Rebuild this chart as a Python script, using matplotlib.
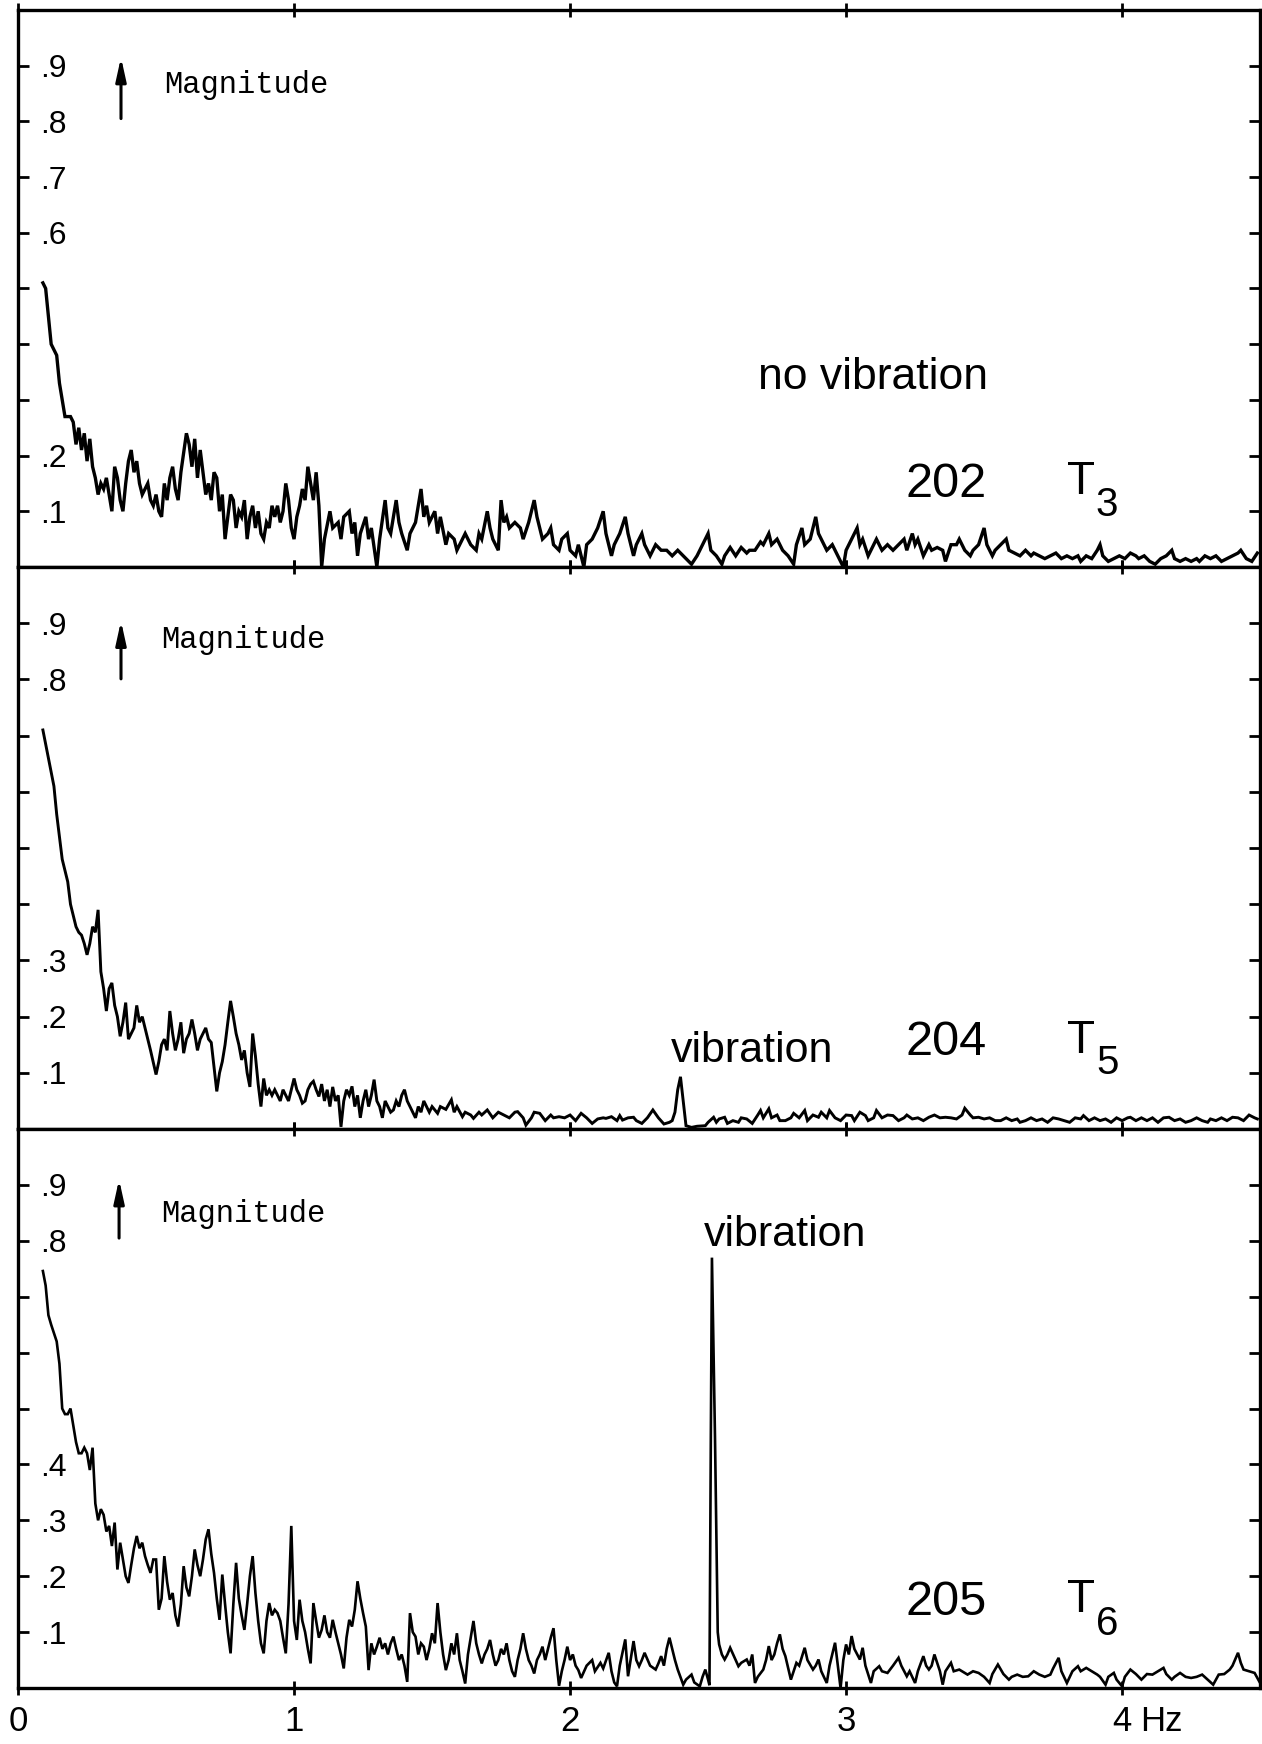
import matplotlib.pyplot as plt
import numpy as np

# --- spectrum 202 / T3 (no vibration) ---
f1 = [0.09, 0.10, 0.11, 0.12, 0.14, 0.15, 0.17, 0.19, 0.20, 0.21, 0.22, 0.23, 0.24, 0.25, 0.26, 0.27, 0.28, 0.29,
      0.30, 0.31, 0.32, 0.33, 0.34, 0.35, 0.36, 0.37, 0.38, 0.39, 0.40, 0.41, 0.42, 0.43, 0.44, 0.45, 0.47, 0.48,
      0.49, 0.50, 0.51, 0.52, 0.53, 0.54, 0.55, 0.56, 0.57, 0.58, 0.59, 0.61, 0.62, 0.63, 0.64, 0.65, 0.66, 0.67,
      0.68, 0.69, 0.70, 0.71, 0.72, 0.73, 0.74, 0.75, 0.76, 0.77, 0.78, 0.79, 0.80, 0.81, 0.82, 0.83, 0.84, 0.85,
      0.86, 0.87, 0.88, 0.89, 0.90, 0.91, 0.92, 0.93, 0.94, 0.95, 0.96, 0.97, 0.98, 0.99, 1.00, 1.01, 1.02, 1.03,
      1.04, 1.05, 1.06, 1.07, 1.08, 1.09, 1.10, 1.11, 1.13, 1.14, 1.16, 1.17, 1.18, 1.20, 1.21, 1.22, 1.23, 1.24,
      1.26, 1.27, 1.28, 1.30, 1.31, 1.33, 1.34, 1.35, 1.37, 1.38, 1.39, 1.41, 1.42, 1.44, 1.46, 1.47, 1.48, 1.49,
      1.51, 1.52, 1.53, 1.55, 1.56, 1.58, 1.59, 1.61, 1.62, 1.64, 1.66, 1.67, 1.68, 1.70, 1.71, 1.72, 1.74, 1.75,
      1.76, 1.77, 1.78, 1.80, 1.82, 1.83, 1.85, 1.87, 1.88, 1.89, 1.90, 1.92, 1.93, 1.94, 1.96, 1.97, 1.99, 2.00,
      2.02, 2.03, 2.05, 2.06, 2.08, 2.10, 2.12, 2.13, 2.15, 2.16, 2.18, 2.20, 2.21, 2.23, 2.24, 2.26, 2.27, 2.29,
      2.31, 2.33, 2.35, 2.37, 2.39, 2.41, 2.43, 2.44, 2.46, 2.48, 2.50, 2.51, 2.53, 2.55, 2.56, 2.58, 2.60, 2.62,
      2.64, 2.65, 2.67, 2.69, 2.70, 2.72, 2.73, 2.75, 2.77, 2.79, 2.81, 2.82, 2.84, 2.85, 2.87, 2.89, 2.90, 2.91,
      2.93, 2.95, 2.97, 2.99, 3.00, 3.02, 3.04, 3.05, 3.06, 3.08, 3.10, 3.11, 3.13, 3.15, 3.17, 3.19, 3.21, 3.22,
      3.24, 3.25, 3.26, 3.28, 3.30, 3.31, 3.33, 3.35, 3.36, 3.38, 3.40, 3.41, 3.43, 3.45, 3.46, 3.48, 3.50, 3.51,
      3.53, 3.54, 3.56, 3.58, 3.59, 3.61, 3.63, 3.65, 3.67, 3.68, 3.70, 3.72, 3.74, 3.76, 3.78, 3.80, 3.82, 3.84,
      3.85, 3.87, 3.89, 3.91, 3.92, 3.93, 3.95, 3.97, 3.99, 4.01, 4.03, 4.05, 4.06, 4.08, 4.10, 4.12, 4.14, 4.16,
      4.18, 4.19, 4.21, 4.23, 4.25, 4.27, 4.28, 4.30, 4.32, 4.34, 4.36, 4.38, 4.40, 4.42, 4.43, 4.45, 4.47, 4.49]
m1 = [0.51, 0.50, 0.45, 0.40, 0.38, 0.33, 0.27, 0.27, 0.26, 0.22, 0.25, 0.21, 0.24, 0.19, 0.23, 0.18, 0.16, 0.13,
      0.15, 0.14, 0.16, 0.13, 0.10, 0.18, 0.16, 0.12, 0.10, 0.15, 0.19, 0.21, 0.17, 0.19, 0.15, 0.13, 0.15, 0.12,
      0.11, 0.13, 0.10, 0.09, 0.15, 0.12, 0.16, 0.18, 0.14, 0.12, 0.17, 0.24, 0.22, 0.18, 0.23, 0.16, 0.21, 0.17,
      0.13, 0.15, 0.12, 0.17, 0.16, 0.10, 0.13, 0.05, 0.09, 0.13, 0.12, 0.07, 0.10, 0.09, 0.12, 0.05, 0.09, 0.11,
      0.07, 0.10, 0.06, 0.05, 0.08, 0.07, 0.11, 0.09, 0.11, 0.08, 0.10, 0.15, 0.12, 0.07, 0.05, 0.09, 0.11, 0.14,
      0.12, 0.18, 0.15, 0.12, 0.17, 0.11, 0.00, 0.05, 0.10, 0.07, 0.08, 0.05, 0.09, 0.10, 0.06, 0.08, 0.02, 0.06,
      0.09, 0.05, 0.07, 0.00, 0.05, 0.12, 0.07, 0.06, 0.12, 0.08, 0.06, 0.03, 0.06, 0.08, 0.14, 0.09, 0.11, 0.08,
      0.10, 0.06, 0.09, 0.04, 0.06, 0.05, 0.03, 0.05, 0.06, 0.04, 0.03, 0.06, 0.05, 0.10, 0.07, 0.05, 0.03, 0.12,
      0.08, 0.09, 0.07, 0.08, 0.07, 0.05, 0.08, 0.12, 0.09, 0.07, 0.05, 0.06, 0.07, 0.04, 0.03, 0.05, 0.06, 0.03,
      0.02, 0.04, 0.00, 0.04, 0.05, 0.07, 0.10, 0.06, 0.02, 0.04, 0.06, 0.09, 0.06, 0.02, 0.04, 0.06, 0.04, 0.02,
      0.04, 0.03, 0.03, 0.02, 0.03, 0.02, 0.01, 0.005, 0.02, 0.04, 0.06, 0.03, 0.02, 0.005, 0.02, 0.035, 0.02, 0.035,
      0.025, 0.03, 0.03, 0.045, 0.04, 0.06, 0.04, 0.05, 0.03, 0.02, 0.005, 0.04, 0.07, 0.04, 0.05, 0.09, 0.06, 0.05,
      0.03, 0.04, 0.02, 0.00, 0.03, 0.05, 0.07, 0.04, 0.05, 0.02, 0.04, 0.05, 0.03, 0.04, 0.03, 0.04, 0.05, 0.03,
      0.06, 0.04, 0.05, 0.02, 0.04, 0.03, 0.035, 0.03, 0.01, 0.04, 0.04, 0.05, 0.03, 0.02, 0.03, 0.04, 0.07, 0.04,
      0.02, 0.03, 0.04, 0.05, 0.03, 0.025, 0.02, 0.03, 0.02, 0.025, 0.02, 0.015, 0.02, 0.025, 0.015, 0.02, 0.015, 0.02,
      0.01, 0.02, 0.015, 0.03, 0.04, 0.02, 0.01, 0.015, 0.02, 0.015, 0.025, 0.02, 0.015, 0.02, 0.01, 0.005, 0.015, 0.02,
      0.03, 0.015, 0.01, 0.015, 0.01, 0.015, 0.01, 0.02, 0.015, 0.02, 0.01, 0.015, 0.02, 0.025, 0.03, 0.015, 0.01, 0.025]

# --- spectrum 204 / T5 (vibration, weak peak) ---
f2 = [0.09, 0.11, 0.13, 0.14, 0.16, 0.17, 0.18, 0.19, 0.21, 0.22, 0.23, 0.24, 0.25, 0.26, 0.27, 0.28, 0.29, 0.30,
      0.31, 0.32, 0.33, 0.34, 0.35, 0.36, 0.37, 0.38, 0.39, 0.40, 0.41, 0.42, 0.43, 0.44, 0.45, 0.46, 0.47, 0.48,
      0.50, 0.51, 0.52, 0.53, 0.54, 0.55, 0.56, 0.57, 0.58, 0.59, 0.60, 0.61, 0.62, 0.63, 0.64, 0.65, 0.66, 0.67,
      0.68, 0.69, 0.70, 0.71, 0.72, 0.73, 0.74, 0.75, 0.76, 0.77, 0.78, 0.79, 0.80, 0.81, 0.82, 0.83, 0.84, 0.85,
      0.86, 0.87, 0.88, 0.89, 0.90, 0.91, 0.92, 0.93, 0.94, 0.95, 0.96, 0.97, 0.98, 0.99, 1.00, 1.01, 1.02, 1.03,
      1.04, 1.05, 1.06, 1.07, 1.08, 1.09, 1.10, 1.11, 1.12, 1.13, 1.14, 1.15, 1.16, 1.17, 1.18, 1.19, 1.20, 1.21,
      1.22, 1.23, 1.24, 1.25, 1.26, 1.27, 1.28, 1.29, 1.30, 1.31, 1.32, 1.33, 1.34, 1.35, 1.36, 1.37, 1.38, 1.39,
      1.40, 1.41, 1.42, 1.43, 1.44, 1.45, 1.46, 1.47, 1.48, 1.49, 1.50, 1.52, 1.53, 1.55, 1.57, 1.58, 1.59, 1.61,
      1.62, 1.64, 1.65, 1.67, 1.68, 1.70, 1.72, 1.74, 1.76, 1.78, 1.80, 1.81, 1.83, 1.84, 1.86, 1.87, 1.89, 1.91,
      1.93, 1.94, 1.96, 1.98, 2.00, 2.02, 2.04, 2.06, 2.08, 2.10, 2.12, 2.13, 2.15, 2.17, 2.18, 2.19, 2.21, 2.23,
      2.24, 2.26, 2.28, 2.30, 2.32, 2.34, 2.36, 2.37, 2.38, 2.39, 2.40, 2.41, 2.42, 2.44, 2.46, 2.49, 2.50, 2.52,
      2.53, 2.54, 2.56, 2.57, 2.59, 2.61, 2.62, 2.64, 2.66, 2.68, 2.69, 2.70, 2.72, 2.73, 2.75, 2.76, 2.78, 2.80,
      2.81, 2.83, 2.85, 2.86, 2.88, 2.90, 2.91, 2.93, 2.94, 2.96, 2.98, 3.00, 3.02, 3.03, 3.05, 3.07, 3.08, 3.10,
      3.11, 3.13, 3.15, 3.17, 3.19, 3.21, 3.22, 3.24, 3.26, 3.28, 3.30, 3.32, 3.34, 3.36, 3.38, 3.40, 3.42, 3.43,
      3.45, 3.46, 3.48, 3.50, 3.52, 3.54, 3.56, 3.58, 3.60, 3.62, 3.63, 3.65, 3.67, 3.69, 3.71, 3.73, 3.75, 3.77,
      3.79, 3.81, 3.83, 3.85, 3.86, 3.88, 3.90, 3.92, 3.94, 3.96, 3.98, 4.00, 4.02, 4.03, 4.05, 4.07, 4.09, 4.11,
      4.13, 4.15, 4.17, 4.19, 4.21, 4.23, 4.25, 4.27, 4.29, 4.31, 4.32, 4.34, 4.36, 4.38, 4.40, 4.42, 4.44, 4.46,
      4.48, 4.49]
m2 = [0.71, 0.66, 0.61, 0.56, 0.48, 0.46, 0.44, 0.40, 0.36, 0.35, 0.345, 0.33, 0.31, 0.33, 0.36, 0.35, 0.39, 0.28,
      0.25, 0.21, 0.25, 0.26, 0.22, 0.20, 0.165, 0.19, 0.225, 0.16, 0.17, 0.18, 0.22, 0.19, 0.20, 0.18, 0.16, 0.14,
      0.097, 0.12, 0.15, 0.16, 0.14, 0.21, 0.17, 0.14, 0.16, 0.19, 0.135, 0.16, 0.17, 0.195, 0.17, 0.14, 0.16, 0.17,
      0.18, 0.16, 0.154, 0.11, 0.067, 0.10, 0.12, 0.15, 0.19, 0.228, 0.20, 0.17, 0.15, 0.123, 0.14, 0.10, 0.075, 0.17,
      0.13, 0.08, 0.04, 0.09, 0.06, 0.07, 0.06, 0.07, 0.06, 0.05, 0.07, 0.06, 0.05, 0.07, 0.09, 0.07, 0.06, 0.046,
      0.05, 0.07, 0.08, 0.085, 0.07, 0.058, 0.08, 0.05, 0.07, 0.04, 0.075, 0.05, 0.06, 0.004, 0.05, 0.07, 0.06, 0.076,
      0.04, 0.06, 0.02, 0.05, 0.07, 0.04, 0.06, 0.088, 0.05, 0.04, 0.02, 0.05, 0.04, 0.03, 0.034, 0.05, 0.04, 0.06,
      0.07, 0.05, 0.04, 0.03, 0.02, 0.04, 0.03, 0.05, 0.04, 0.03, 0.04, 0.028, 0.04, 0.035, 0.052, 0.03, 0.04, 0.022,
      0.03, 0.025, 0.019, 0.03, 0.025, 0.034, 0.02, 0.03, 0.025, 0.02, 0.03, 0.031, 0.02, 0.007, 0.02, 0.03, 0.028, 0.015,
      0.025, 0.02, 0.022, 0.02, 0.025, 0.015, 0.028, 0.02, 0.01, 0.018, 0.02, 0.019, 0.022, 0.015, 0.024, 0.016, 0.02, 0.021,
      0.015, 0.01, 0.02, 0.034, 0.02, 0.009, 0.012, 0.015, 0.03, 0.07, 0.093, 0.05, 0.006, 0.003, 0.005, 0.006, 0.012, 0.021,
      0.012, 0.018, 0.021, 0.01, 0.015, 0.012, 0.02, 0.018, 0.01, 0.025, 0.033, 0.02, 0.036, 0.02, 0.025, 0.015, 0.015, 0.02,
      0.028, 0.02, 0.033, 0.015, 0.025, 0.021, 0.03, 0.02, 0.033, 0.02, 0.015, 0.025, 0.024, 0.015, 0.03, 0.024, 0.015, 0.02,
      0.033, 0.02, 0.025, 0.024, 0.015, 0.02, 0.025, 0.018, 0.02, 0.015, 0.021, 0.025, 0.02, 0.021, 0.02, 0.018, 0.025, 0.037,
      0.025, 0.02, 0.021, 0.018, 0.02, 0.015, 0.015, 0.02, 0.015, 0.018, 0.012, 0.015, 0.02, 0.015, 0.018, 0.012, 0.02, 0.018,
      0.015, 0.012, 0.02, 0.018, 0.024, 0.015, 0.02, 0.015, 0.018, 0.012, 0.02, 0.015, 0.02, 0.021, 0.015, 0.02, 0.015, 0.02,
      0.012, 0.02, 0.021, 0.015, 0.018, 0.012, 0.015, 0.02, 0.015, 0.012, 0.018, 0.015, 0.02, 0.015, 0.021, 0.02, 0.015, 0.025,
      0.02, 0.018]

# --- spectrum 205 / T6 (vibration, strong peak near 2.5 Hz) ---
f3 = [0.09, 0.10, 0.11, 0.12, 0.13, 0.14, 0.15, 0.16, 0.17, 0.18, 0.19, 0.20, 0.21, 0.22, 0.23, 0.24, 0.25, 0.26,
      0.27, 0.28, 0.29, 0.30, 0.31, 0.32, 0.33, 0.34, 0.35, 0.36, 0.37, 0.38, 0.39, 0.40, 0.41, 0.42, 0.43, 0.44,
      0.45, 0.46, 0.47, 0.48, 0.49, 0.50, 0.51, 0.52, 0.53, 0.54, 0.55, 0.56, 0.57, 0.58, 0.59, 0.60, 0.61, 0.62,
      0.63, 0.64, 0.65, 0.66, 0.67, 0.68, 0.69, 0.70, 0.71, 0.72, 0.73, 0.74, 0.75, 0.76, 0.77, 0.78, 0.79, 0.80,
      0.81, 0.82, 0.83, 0.84, 0.85, 0.86, 0.87, 0.88, 0.89, 0.90, 0.91, 0.92, 0.93, 0.94, 0.95, 0.96, 0.97, 0.98,
      0.99, 1.00, 1.01, 1.02, 1.03, 1.04, 1.05, 1.06, 1.07, 1.08, 1.09, 1.10, 1.11, 1.12, 1.13, 1.14, 1.15, 1.16,
      1.17, 1.18, 1.19, 1.20, 1.21, 1.22, 1.23, 1.24, 1.25, 1.26, 1.27, 1.28, 1.29, 1.30, 1.31, 1.32, 1.33, 1.34,
      1.35, 1.36, 1.37, 1.38, 1.39, 1.40, 1.41, 1.42, 1.43, 1.44, 1.45, 1.46, 1.47, 1.48, 1.49, 1.50, 1.51, 1.52,
      1.53, 1.54, 1.55, 1.56, 1.57, 1.58, 1.59, 1.60, 1.61, 1.62, 1.63, 1.64, 1.65, 1.66, 1.67, 1.68, 1.69, 1.70,
      1.71, 1.72, 1.73, 1.74, 1.75, 1.76, 1.77, 1.78, 1.79, 1.80, 1.81, 1.82, 1.83, 1.84, 1.85, 1.86, 1.87, 1.88,
      1.89, 1.90, 1.91, 1.92, 1.93, 1.94, 1.95, 1.96, 1.97, 1.98, 1.99, 2.00, 2.01, 2.02, 2.03, 2.04, 2.06, 2.08,
      2.09, 2.11, 2.12, 2.14, 2.15, 2.16, 2.17, 2.18, 2.20, 2.21, 2.23, 2.24, 2.25, 2.26, 2.27, 2.29, 2.31, 2.32,
      2.33, 2.34, 2.35, 2.36, 2.37, 2.38, 2.39, 2.41, 2.42, 2.44, 2.45, 2.47, 2.48, 2.49, 2.50, 2.505, 2.510, 2.514,
      2.520, 2.525, 2.530, 2.535, 2.54, 2.55, 2.56, 2.57, 2.58, 2.60, 2.61, 2.62, 2.64, 2.65, 2.66, 2.67, 2.68, 2.70,
      2.71, 2.72, 2.73, 2.74, 2.75, 2.76, 2.77, 2.78, 2.80, 2.81, 2.82, 2.83, 2.85, 2.86, 2.88, 2.89, 2.90, 2.91,
      2.93, 2.94, 2.96, 2.97, 2.98, 2.99, 3.00, 3.01, 3.02, 3.03, 3.05, 3.06, 3.07, 3.09, 3.10, 3.12, 3.13, 3.15,
      3.17, 3.19, 3.20, 3.22, 3.23, 3.25, 3.26, 3.28, 3.29, 3.30, 3.31, 3.32, 3.34, 3.35, 3.36, 3.38, 3.39, 3.41,
      3.42, 3.44, 3.46, 3.48, 3.50, 3.52, 3.53, 3.55, 3.57, 3.59, 3.60, 3.62, 3.64, 3.66, 3.68, 3.70, 3.72, 3.74,
      3.75, 3.77, 3.78, 3.80, 3.82, 3.84, 3.85, 3.87, 3.89, 3.91, 3.92, 3.94, 3.95, 3.97, 3.98, 4.00, 4.01, 4.03,
      4.05, 4.07, 4.09, 4.11, 4.13, 4.15, 4.16, 4.18, 4.19, 4.21, 4.23, 4.25, 4.27, 4.29, 4.31, 4.33, 4.35, 4.37,
      4.39, 4.40, 4.42, 4.43, 4.44, 4.46, 4.48, 4.50]
m3 = [0.746, 0.72, 0.667, 0.65, 0.635, 0.62, 0.58, 0.50, 0.49, 0.49, 0.50, 0.47, 0.44, 0.42, 0.42, 0.43, 0.42, 0.39,
      0.43, 0.33, 0.30, 0.32, 0.31, 0.28, 0.29, 0.254, 0.296, 0.212, 0.26, 0.23, 0.20, 0.188, 0.22, 0.25, 0.272, 0.25,
      0.26, 0.236, 0.22, 0.206, 0.23, 0.23, 0.14, 0.16, 0.236, 0.19, 0.158, 0.17, 0.13, 0.11, 0.15, 0.218, 0.18, 0.164,
      0.20, 0.248, 0.22, 0.20, 0.23, 0.266, 0.284, 0.24, 0.206, 0.16, 0.122, 0.203, 0.15, 0.10, 0.062, 0.15, 0.224, 0.16,
      0.13, 0.104, 0.15, 0.20, 0.236, 0.17, 0.12, 0.08, 0.062, 0.12, 0.152, 0.13, 0.14, 0.134, 0.12, 0.09, 0.062, 0.15,
      0.29, 0.12, 0.086, 0.158, 0.12, 0.10, 0.07, 0.044, 0.152, 0.12, 0.09, 0.104, 0.13, 0.10, 0.09, 0.122, 0.10, 0.08,
      0.06, 0.035, 0.09, 0.122, 0.11, 0.14, 0.191, 0.16, 0.134, 0.11, 0.032, 0.08, 0.06, 0.074, 0.09, 0.07, 0.08, 0.06,
      0.08, 0.092, 0.07, 0.05, 0.06, 0.04, 0.011, 0.134, 0.10, 0.092, 0.06, 0.08, 0.074, 0.05, 0.07, 0.098, 0.08, 0.152,
      0.10, 0.06, 0.032, 0.05, 0.08, 0.06, 0.098, 0.05, 0.03, 0.008, 0.06, 0.09, 0.12, 0.08, 0.06, 0.044, 0.06, 0.07,
      0.086, 0.06, 0.04, 0.05, 0.07, 0.06, 0.08, 0.05, 0.03, 0.02, 0.05, 0.07, 0.098, 0.07, 0.05, 0.04, 0.026, 0.05,
      0.06, 0.074, 0.05, 0.07, 0.09, 0.107, 0.05, 0.004, 0.03, 0.05, 0.074, 0.05, 0.06, 0.04, 0.032, 0.018, 0.04, 0.05,
      0.03, 0.045, 0.035, 0.063, 0.03, 0.01, 0.003, 0.04, 0.087, 0.021, 0.084, 0.05, 0.039, 0.05, 0.063, 0.04, 0.033, 0.044,
      0.057, 0.04, 0.07, 0.09, 0.07, 0.05, 0.033, 0.006, 0.015, 0.024, 0.01, 0.003, 0.02, 0.033, 0.015, 0.005, 0.45, 0.77,
      0.60, 0.45, 0.28, 0.10, 0.078, 0.06, 0.051, 0.06, 0.072, 0.05, 0.039, 0.045, 0.051, 0.04, 0.06, 0.009, 0.02, 0.033,
      0.05, 0.075, 0.05, 0.06, 0.08, 0.096, 0.07, 0.057, 0.015, 0.03, 0.045, 0.04, 0.072, 0.05, 0.033, 0.04, 0.051, 0.03,
      0.009, 0.04, 0.081, 0.04, 0.0, 0.05, 0.078, 0.06, 0.093, 0.07, 0.051, 0.072, 0.04, 0.009, 0.03, 0.039, 0.03, 0.027,
      0.04, 0.054, 0.04, 0.021, 0.03, 0.009, 0.03, 0.057, 0.04, 0.033, 0.04, 0.06, 0.03, 0.006, 0.03, 0.045, 0.03, 0.033,
      0.03, 0.024, 0.03, 0.027, 0.02, 0.009, 0.025, 0.042, 0.025, 0.015, 0.02, 0.024, 0.02, 0.021, 0.03, 0.024, 0.02, 0.024,
      0.035, 0.054, 0.03, 0.009, 0.03, 0.039, 0.03, 0.036, 0.03, 0.024, 0.02, 0.006, 0.02, 0.027, 0.015, 0.003, 0.02, 0.033,
      0.025, 0.015, 0.025, 0.024, 0.03, 0.036, 0.025, 0.015, 0.02, 0.027, 0.02, 0.018, 0.02, 0.024, 0.015, 0.006, 0.024, 0.025,
      0.033, 0.04, 0.063, 0.045, 0.033, 0.03, 0.027, 0.009]

freqs = [f1, f2, f3]
mags = [m1, m2, m3]
run_ids = ['202', '204', '205']
temp_subs = ['3', '5', '6']
ytick_vals = [0.1, 0.2, 0.3, 0.4, 0.5, 0.6, 0.7, 0.8, 0.9]
ytick_text = [['.1', '.2', '', '', '', '.6', '.7', '.8', '.9'],
              ['.1', '.2', '.3', '', '', '', '', '.8', '.9'],
              ['.1', '.2', '.3', '.4', '', '', '', '.8', '.9']]
xtick_vals = [0, 1, 2, 3, 4]
xtick_text = ['0', '1', '2', '3', '4']

sans = 'Liberation Sans'
mono = 'Liberation Mono'

fig = plt.figure(figsize=(12.62, 17.44), dpi=100)
boxes = [[0.0143, 0.6749, 0.9842, 0.3194],
         [0.0143, 0.3526, 0.9842, 0.3223],
         [0.0143, 0.0321, 0.9842, 0.3205]]
line_w = [2.4, 2.1, 1.9]

# text placement per panel (x in Hz, y in magnitude)
id_pos = [(3.215, 0.148), (3.215, 0.154), (3.215, 0.153)]
t_pos = [(3.80, 0.153), (3.80, 0.156), (3.80, 0.158)]
sub_pos = [(3.905, 0.112), (3.905, 0.117), (3.905, 0.115)]
arrow_pos = [(0.373, 0.80, 0.92), (0.373, 0.796, 0.909), (0.366, 0.80, 0.915)]
mag_pos = [(0.53, 0.85), (0.52, 0.855), (0.52, 0.833)]
note_text = ['no vibration', 'vibration', 'vibration']
note_pos = [(2.68, 0.32), (2.366, 0.12), (2.486, 0.79)]
note_size = [32, 31, 31]

for i in range(3):
    ax = fig.add_axes(boxes[i])
    ax.plot(freqs[i], mags[i], color='black', lw=line_w[i], solid_joinstyle='miter')
    ax.set_xlim(0, 4.5)
    ax.set_ylim(0, 1.0)

    for s in ax.spines.values():
        s.set_linewidth(2.4)

    ax.set_yticks(ytick_vals)
    ax.set_yticklabels(ytick_text[i], fontsize=23, family=sans, ha='left')
    ax.tick_params(axis='y', which='both', direction='in', length=8, width=2,
                   left=True, right=True, pad=-16)

    ax.set_xticks(xtick_vals)
    ax.tick_params(axis='x', direction='inout', length=10, width=2,
                   top=True, bottom=True, pad=7)
    if i == 2:
        ax.set_xticklabels(xtick_text, fontsize=25, family=sans)
        ax.annotate('Hz', xy=(4.065, 0), xycoords=('data', 'axes fraction'),
                    xytext=(0, -12), textcoords='offset points',
                    fontsize=25, family=sans, ha='left', va='top')
    else:
        ax.set_xticklabels([])

    # magnitude arrow + label
    ax_x, y0, y1 = arrow_pos[i]
    ax.annotate('', xy=(ax_x, y1), xytext=(ax_x, y0),
                arrowprops=dict(arrowstyle='-|>,head_length=1.0,head_width=0.22',
                                lw=2.2, color='black', mutation_scale=14))
    ax.text(mag_pos[i][0], mag_pos[i][1], 'Magnitude', fontsize=22, family=mono,
            ha='left', va='baseline')

    ax.text(note_pos[i][0], note_pos[i][1], note_text[i], fontsize=note_size[i], family=sans,
            ha='left', va='baseline')
    ax.text(id_pos[i][0], id_pos[i][1], run_ids[i], fontsize=35, family=sans,
            ha='left', va='center')
    ax.text(t_pos[i][0], t_pos[i][1], 'T', fontsize=33, family=sans,
            ha='left', va='center')
    ax.text(sub_pos[i][0], sub_pos[i][1], temp_subs[i], fontsize=29, family=sans,
            ha='left', va='center')

fig.savefig('out.png', dpi=100, facecolor='white')
